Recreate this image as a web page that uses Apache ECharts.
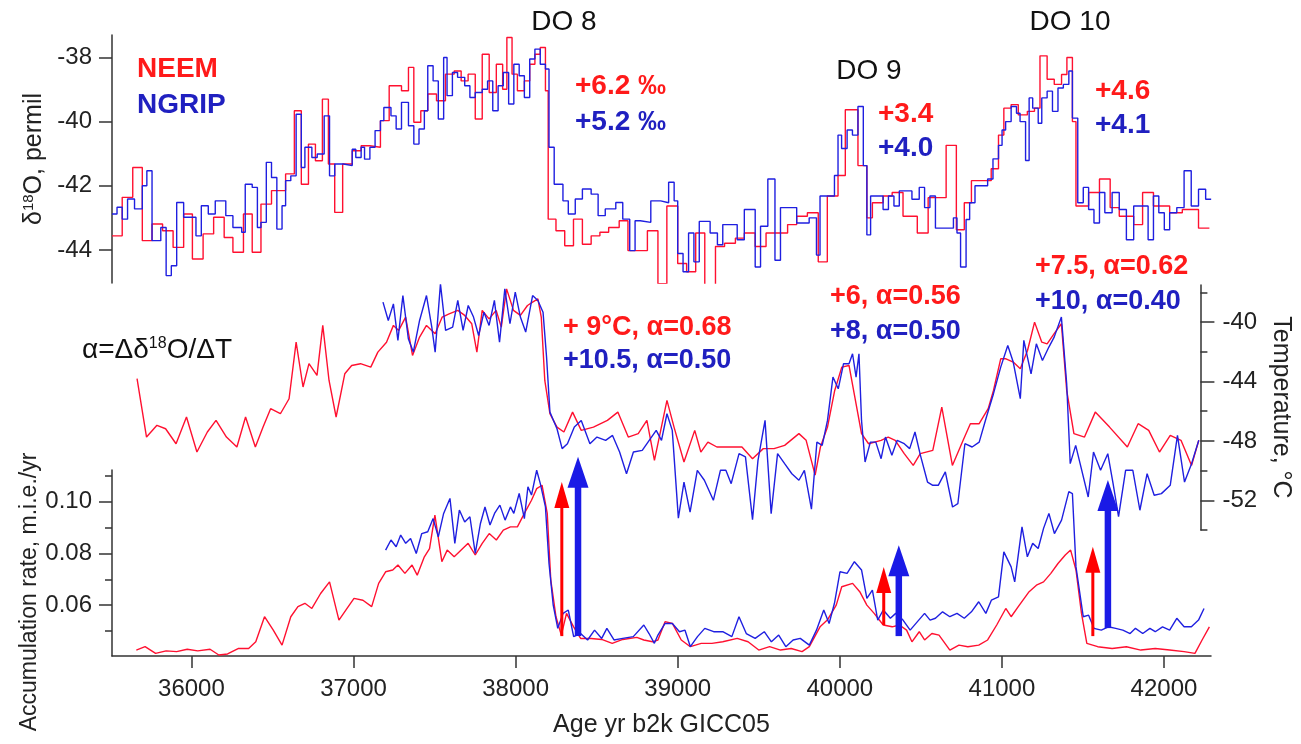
<!DOCTYPE html>
<html>
<head>
<meta charset="utf-8">
<script src="https://cdn.jsdelivr.net/npm/echarts@6.0.0/dist/echarts.min.js"></script>
<style>
html,body{margin:0;padding:0;background:#fff;}
#chart{width:1301px;height:744px;}
</style>
</head>
<body>
<div id="chart"></div>
<script>
// ---------- DATA ----------
const xTicks = [36000, 37000, 38000, 39000, 40000, 41000, 42000];
const d18OTicks = [-44, -42, -40, -38];
const tempTicks = [-52, -48, -44, -40];
const tempMinorTicks = [-54, -50, -46, -42, -38];
const accTicks = [0.06, 0.08, 0.10];
const accMinorTicks = [0.05, 0.07, 0.09, 0.11];

// NEEM d18O (step series: value holds from year to next year)
const neemD18OYears = [35510,35573,35638,35697,35757,35822,35887,35952,36006,36072,36137,36202,36256,36321,36375,36429,36494,36581,36635,36678,36722,36765,36808,36845,36884,36933,36992,37047,37101,37166,37220,37296,37339,37372,37415,37458,37512,37567,37621,37664,37707,37751,37794,37837,37881,37920,37946,37978,38011,38054,38087,38119,38152,38184,38201,38249,38303,38357,38412,38466,38520,38574,38639,38693,38813,38878,38933,39000,39055,39111,39167,39233,39289,39356,39411,39478,39545,39678,39734,39800,39867,39923,39989,40034,40112,40167,40201,40267,40323,40390,40478,40545,40656,40719,40768,40812,40934,40979,41012,41057,41101,41157,41201,41235,41279,41323,41368,41401,41435,41457,41535,41602,41668,41724,41813,41868,41935,42035,42113,42213,42280];
const neemD18O = [-43.56,-42.36,-41.43,-43.71,-43.19,-43.40,-43.92,-42.88,-44.28,-43.50,-42.98,-43.61,-44.07,-42.88,-44.07,-42.57,-42.15,-41.63,-39.66,-41.95,-40.70,-41.22,-39.30,-41.32,-42.83,-41.32,-40.91,-40.75,-40.80,-39.97,-38.88,-39.04,-38.31,-40.02,-39.66,-39.14,-39.35,-38.52,-38.42,-38.73,-38.52,-39.92,-37.90,-39.09,-38.21,-38.99,-37.38,-38.52,-39.04,-38.73,-38.21,-37.90,-37.69,-39.04,-43.04,-43.40,-43.87,-43.04,-43.82,-43.56,-43.45,-43.30,-43.09,-44.02,-43.40,-45.05,-42.63,-44.42,-44.68,-43.47,-45.16,-43.89,-43.79,-43.63,-43.47,-43.89,-43.47,-43.21,-42.95,-42.84,-44.37,-42.32,-41.68,-39.63,-41.37,-43.00,-42.53,-42.32,-42.21,-42.95,-43.47,-42.37,-40.74,-43.37,-42.53,-41.84,-41.47,-40.42,-39.58,-39.47,-39.79,-39.68,-39.58,-37.95,-38.68,-38.84,-38.53,-38.00,-40.00,-42.63,-42.21,-41.79,-42.68,-42.95,-43.21,-42.21,-42.63,-42.84,-42.74,-43.32,-43.32];

// NGRIP d18O (step series)
const ngripD18OYears = [35510,35541,35573,35606,35649,35697,35725,35757,35811,35844,35876,35909,35952,36028,36061,36104,36147,36212,36256,36310,36332,36375,36407,36429,36462,36494,36527,36559,36581,36613,36646,36678,36700,36743,36776,36819,36852,36884,36938,36992,37014,37047,37068,37101,37133,37166,37187,37231,37263,37296,37339,37372,37404,37437,37458,37491,37523,37556,37577,37610,37642,37686,37718,37751,37794,37827,37859,37892,37924,37957,37989,38022,38054,38087,38119,38152,38184,38206,38238,38292,38325,38368,38412,38466,38509,38553,38618,38661,38704,38737,38769,38834,38895,38944,38978,39000,39033,39067,39100,39133,39200,39245,39278,39367,39411,39478,39511,39556,39600,39634,39734,39811,39856,39878,39967,39989,40011,40045,40078,40112,40145,40167,40190,40267,40300,40334,40367,40445,40490,40523,40556,40590,40701,40723,40745,40779,40801,40834,40912,40945,40979,41001,41023,41057,41090,41112,41146,41168,41190,41224,41246,41279,41312,41346,41379,41413,41435,41468,41502,41535,41568,41602,41635,41680,41724,41768,41813,41902,41935,41968,42002,42035,42079,42124,42168,42213,42257,42291];
const ngripD18O = [-42.88,-42.67,-43.04,-42.41,-42.72,-42.00,-41.53,-43.71,-43.30,-44.80,-44.49,-42.52,-42.98,-43.56,-42.62,-42.88,-42.47,-42.93,-43.30,-43.45,-41.95,-42.05,-43.30,-43.14,-41.27,-41.74,-43.35,-42.62,-41.84,-41.69,-39.77,-41.43,-40.80,-41.12,-41.01,-39.82,-41.69,-41.32,-41.37,-40.86,-41.12,-40.80,-41.17,-40.80,-40.28,-39.97,-39.56,-39.82,-40.23,-39.40,-40.13,-40.70,-40.23,-39.66,-38.26,-38.73,-39.92,-38.00,-39.19,-38.47,-38.62,-38.88,-39.25,-39.09,-38.99,-38.73,-39.66,-38.88,-38.47,-39.45,-38.21,-38.57,-39.25,-38.05,-37.74,-38.21,-38.36,-40.80,-41.95,-42.47,-42.88,-42.41,-42.10,-42.26,-42.93,-42.72,-42.52,-43.04,-44.02,-43.09,-43.14,-42.47,-42.53,-41.89,-42.47,-44.11,-44.68,-43.47,-44.37,-43.11,-43.47,-43.84,-43.21,-43.68,-42.74,-44.53,-43.26,-41.79,-44.32,-42.68,-43.16,-43.00,-44.16,-42.32,-41.68,-40.42,-40.84,-40.26,-40.42,-39.53,-41.37,-43.53,-42.32,-42.74,-42.32,-42.63,-42.16,-42.42,-42.05,-42.68,-42.32,-43.32,-43.00,-43.47,-44.53,-43.05,-42.53,-42.00,-41.79,-41.16,-40.74,-40.26,-40.00,-39.53,-39.74,-40.00,-41.21,-39.26,-39.58,-40.05,-39.26,-39.05,-39.68,-38.95,-38.84,-38.42,-39.89,-42.53,-42.05,-42.74,-43.16,-42.21,-42.84,-42.21,-42.74,-43.68,-42.63,-43.68,-42.32,-42.84,-43.37,-42.84,-42.68,-41.53,-42.63,-42.11,-42.42,-42.42];

// NEEM temperature (deg C)
const neemTempYears = [35666,35725,35790,35844,35909,35974,36039,36104,36158,36223,36288,36342,36403,36451,36498,36559,36613,36657,36700,36737,36787,36823,36862,36906,36960,37003,37058,37122,37166,37220,37263,37296,37339,37382,37426,37469,37523,37567,37610,37664,37707,37751,37783,37816,37859,37903,37935,37968,38011,38054,38098,38130,38163,38184,38206,38238,38282,38325,38379,38433,38509,38596,38661,38726,38788,38842,38889,38967,39011,39073,39140,39178,39222,39278,39367,39434,39500,39567,39634,39700,39789,39834,39890,39923,39967,40012,40056,40101,40145,40179,40223,40301,40345,40389,40445,40501,40545,40623,40679,40745,40812,40857,40912,40968,41001,41046,41079,41124,41168,41213,41257,41302,41335,41379,41424,41457,41502,41568,41635,41724,41835,41902,41968,42035,42102,42169,42235,42280];
const neemTemp = [-43.81,-47.74,-46.95,-47.18,-48.19,-46.39,-48.75,-47.40,-46.62,-47.74,-48.41,-46.39,-48.41,-47.07,-45.83,-46.17,-45.16,-41.35,-44.37,-42.80,-43.59,-40.22,-43.93,-46.39,-43.48,-42.92,-42.80,-43.03,-42.02,-41.35,-40.22,-40.56,-39.66,-42.24,-41.01,-40.22,-40.78,-39.66,-39.44,-39.21,-39.55,-40.11,-42.02,-39.21,-39.78,-39.21,-40.34,-37.76,-39.21,-39.55,-38.88,-38.65,-38.43,-39.66,-43.93,-46.17,-47.07,-47.40,-46.06,-47.29,-47.07,-46.62,-46.06,-47.74,-47.51,-46.62,-49.31,-45.27,-47.07,-49.42,-47.29,-48.75,-48.08,-48.41,-48.41,-48.41,-49.20,-48.52,-48.52,-48.30,-47.51,-47.96,-50.30,-48.41,-47.07,-44.60,-43.03,-42.92,-45.50,-47.51,-48.19,-47.96,-47.74,-47.96,-48.86,-49.65,-48.86,-48.64,-45.72,-49.65,-47.96,-46.84,-46.84,-45.83,-44.60,-42.47,-42.47,-42.69,-43.14,-41.91,-40.00,-41.35,-41.46,-40.78,-40.11,-44.60,-47.51,-47.74,-46.06,-47.07,-48.41,-46.84,-47.29,-48.75,-47.63,-47.96,-49.65,-47.96];

// NGRIP temperature (deg C)
const ngripTempYears = [37198,37231,37263,37291,37322,37356,37387,37426,37469,37502,37523,37556,37588,37632,37664,37697,37729,37762,37794,37827,37859,37892,37924,37957,37989,38022,38054,38087,38130,38163,38195,38217,38238,38282,38314,38347,38390,38433,38487,38531,38585,38628,38672,38715,38758,38813,38900,38933,38967,39000,39038,39073,39111,39156,39200,39256,39300,39334,39367,39416,39456,39500,39534,39578,39616,39656,39700,39745,39789,39823,39867,39901,39934,39967,40001,40034,40067,40101,40123,40145,40163,40179,40201,40234,40268,40301,40328,40368,40401,40445,40479,40512,40546,40590,40623,40657,40701,40746,40779,40823,40868,40912,40957,41001,41046,41090,41124,41168,41190,41235,41268,41306,41346,41379,41424,41457,41479,41513,41546,41591,41624,41668,41713,41746,41780,41824,41869,41913,41958,42002,42047,42102,42147,42191,42235,42280];
const ngripTemp = [-38.65,-39.89,-38.77,-41.23,-38.21,-41.12,-42.02,-39.89,-38.21,-40.34,-42.02,-37.42,-40.56,-40.34,-38.54,-40.56,-38.88,-39.66,-40.90,-39.33,-40.22,-38.54,-41.35,-37.76,-40.11,-37.98,-39.66,-40.67,-38.21,-38.54,-39.33,-42.36,-46.06,-47.18,-48.52,-48.19,-47.07,-46.62,-48.19,-47.74,-47.96,-47.63,-48.75,-50.21,-48.75,-48.64,-47.29,-47.96,-46.17,-47.29,-53.20,-50.77,-52.80,-49.98,-50.65,-52.00,-49.98,-49.98,-50.88,-48.86,-49.08,-53.30,-49.31,-46.62,-52.90,-48.86,-49.53,-50.21,-50.65,-49.98,-52.60,-48.08,-48.30,-46.62,-43.70,-44.49,-42.80,-42.80,-42.13,-43.70,-42.13,-46.62,-49.42,-48.08,-48.08,-49.20,-47.74,-48.97,-47.96,-48.19,-48.52,-47.40,-48.97,-50.77,-50.99,-50.99,-50.09,-52.45,-52.23,-48.19,-48.41,-48.08,-46.39,-44.82,-43.03,-41.57,-42.69,-45.16,-41.23,-43.48,-41.46,-42.58,-41.68,-41.01,-39.66,-44.15,-49.53,-48.30,-49.76,-51.78,-48.75,-49.98,-48.86,-50.88,-53.10,-49.98,-49.98,-52.67,-50.21,-51.66,-51.55,-50.99,-47.63,-50.77,-49.53,-47.96];

// NEEM accumulation rate (m ice eq. / yr)
const neemAccYears = [35660,35714,35779,35844,35909,35974,36039,36115,36169,36223,36288,36353,36397,36451,36505,36559,36613,36657,36700,36743,36797,36852,36910,36960,37003,37058,37112,37155,37198,37242,37274,37317,37361,37393,37437,37469,37502,37545,37578,37621,37664,37707,37751,37794,37837,37881,37924,37968,38011,38054,38098,38130,38163,38195,38217,38249,38282,38314,38358,38401,38466,38531,38596,38661,38748,38791,38845,38878,38922,38967,39022,39078,39145,39211,39278,39367,39434,39500,39567,39634,39700,39767,39812,39878,39923,39978,40012,40079,40123,40167,40212,40268,40323,40368,40412,40445,40490,40523,40568,40612,40679,40735,40790,40857,40912,40968,41024,41057,41101,41168,41213,41257,41302,41346,41391,41424,41457,41491,41524,41591,41680,41768,41857,41946,42035,42124,42191,42235,42280];
const neemAcc = [0.0426,0.0439,0.0413,0.0423,0.0420,0.0429,0.0423,0.0429,0.0407,0.0411,0.0432,0.0432,0.0458,0.0555,0.0503,0.0445,0.0555,0.0594,0.0607,0.0587,0.0645,0.0690,0.0542,0.0587,0.0626,0.0619,0.0594,0.0684,0.0729,0.0736,0.0755,0.0723,0.0755,0.0716,0.0787,0.0819,0.0948,0.0768,0.0813,0.0787,0.0813,0.0839,0.0794,0.0839,0.0877,0.0852,0.0890,0.0903,0.0903,0.0955,0.1006,0.1051,0.1064,0.0955,0.0697,0.0555,0.0484,0.0568,0.0516,0.0471,0.0471,0.0467,0.0452,0.0467,0.0475,0.0465,0.0458,0.0465,0.0536,0.0529,0.0465,0.0439,0.0452,0.0452,0.0458,0.0471,0.0458,0.0426,0.0439,0.0426,0.0432,0.0420,0.0439,0.0516,0.0542,0.0600,0.0671,0.0684,0.0652,0.0600,0.0568,0.0523,0.0516,0.0523,0.0503,0.0458,0.0497,0.0465,0.0490,0.0484,0.0426,0.0445,0.0439,0.0445,0.0465,0.0523,0.0587,0.0555,0.0594,0.0652,0.0677,0.0690,0.0723,0.0761,0.0794,0.0813,0.0736,0.0568,0.0452,0.0439,0.0432,0.0439,0.0426,0.0432,0.0426,0.0420,0.0413,0.0465,0.0516];

// NGRIP accumulation rate (m ice eq. / yr)
const ngripAccYears = [37198,37231,37263,37291,37322,37352,37387,37421,37458,37491,37523,37556,37595,37625,37653,37686,37718,37751,37783,37811,37842,37870,37903,37935,37968,37989,38022,38054,38076,38098,38130,38152,38184,38206,38232,38260,38293,38325,38358,38401,38444,38487,38531,38563,38607,38661,38726,38791,38823,38856,38878,38922,38967,39011,39045,39078,39122,39167,39222,39278,39334,39378,39423,39478,39534,39578,39623,39667,39712,39756,39812,39856,39901,39934,39967,40001,40045,40090,40134,40167,40201,40234,40268,40312,40345,40390,40434,40479,40523,40557,40590,40634,40679,40723,40768,40812,40857,40901,40935,40979,41012,41057,41079,41124,41157,41190,41224,41257,41290,41324,41368,41413,41435,41457,41502,41535,41568,41613,41657,41702,41746,41791,41824,41869,41913,41946,41991,42035,42079,42124,42169,42213,42247];
const ngripAcc = [0.0813,0.0852,0.0826,0.0871,0.0839,0.0858,0.0800,0.0877,0.0884,0.0935,0.0864,0.0955,0.1013,0.0839,0.0968,0.0922,0.0942,0.0800,0.0916,0.0980,0.0910,0.0955,0.0987,0.0929,0.0980,0.0955,0.1032,0.0935,0.1058,0.1026,0.1122,0.1071,0.0980,0.0761,0.0600,0.0510,0.0568,0.0581,0.0478,0.0490,0.0465,0.0503,0.0471,0.0510,0.0465,0.0471,0.0478,0.0523,0.0490,0.0452,0.0484,0.0529,0.0529,0.0497,0.0503,0.0439,0.0478,0.0510,0.0497,0.0497,0.0478,0.0555,0.0490,0.0471,0.0497,0.0458,0.0484,0.0439,0.0465,0.0471,0.0445,0.0503,0.0581,0.0529,0.0607,0.0729,0.0723,0.0768,0.0736,0.0626,0.0658,0.0542,0.0581,0.0549,0.0568,0.0542,0.0503,0.0536,0.0568,0.0542,0.0549,0.0574,0.0555,0.0568,0.0549,0.0574,0.0613,0.0568,0.0619,0.0632,0.0806,0.0748,0.0690,0.0903,0.0787,0.0839,0.0819,0.0897,0.0955,0.0877,0.0929,0.1039,0.1032,0.0748,0.0555,0.0561,0.0510,0.0503,0.0516,0.0510,0.0503,0.0490,0.0510,0.0490,0.0510,0.0497,0.0516,0.0503,0.0549,0.0516,0.0516,0.0542,0.0587];

// Arrows marking accumulation jumps (year, base value, tip value)
const neemArrowYears = [38285, 40271, 41561];
const neemArrowBase = [0.0480, 0.0523, 0.0480];
const neemArrowTip = [0.1077, 0.0748, 0.0826];
const ngripArrowYears = [38385, 40364, 41654];
const ngripArrowBase = [0.0480, 0.0480, 0.0511];
const ngripArrowTip = [0.1174, 0.0832, 0.1084];

// ---------- STYLE ----------
const RED = '#ff1030';
const BLUE = '#1f1fe0';
const RED_TXT = '#ff1a1a';
const BLUE_TXT = '#2020c0';
const AX = '#333';
const FONT = '"Liberation Sans", Arial, sans-serif';
const X_MIN = 35510, X_MAX = 42290;

const zip = (xs, ys) => xs.map((x, i) => [x, ys[i]]);

function arrowRenderer(shaftW, headW, headL, color) {
  return function (params, api) {
    const base = api.coord([api.value(0), api.value(1)]);
    const tip = api.coord([api.value(0), api.value(2)]);
    return {
      type: 'group',
      children: [
        { type: 'line', shape: { x1: base[0], y1: base[1], x2: tip[0], y2: tip[1] + headL - 2 },
          style: { stroke: color, lineWidth: shaftW } },
        { type: 'polygon', shape: { points: [[tip[0], tip[1]], [tip[0] - headW / 2, tip[1] + headL], [tip[0] + headW / 2, tip[1] + headL]] },
          style: { fill: color } }
      ]
    };
  };
}

const hiddenX = (gi) => ({
  type: 'value', gridIndex: gi, min: X_MIN, max: X_MAX, show: false
});

const lineSeries = (name, data, xi, yi, color, step) => ({
  name, type: 'line', data, xAxisIndex: xi, yAxisIndex: yi, step: step || false,
  showSymbol: false, symbol: 'none', animation: false,
  lineStyle: { color, width: 1.4 }, itemStyle: { color }
});

const tickLabel = { color: '#222', fontSize: 24, fontFamily: FONT };
const titleStyle = { color: '#222', fontSize: 25, fontFamily: FONT };

function txt(text, x, y, color, size, weight, align) {
  return { type: 'text', x, y, style: { text, fill: color, font: (weight || 'normal') + ' ' + size + 'px ' + FONT,
    textAlign: align || 'left', textVerticalAlign: 'middle' } };
}

const option = {
  backgroundColor: '#fff',
  animation: false,
  grid: [
    { left: 112, top: 35, width: 1099, height: 248 },
    { left: 112, top: 285, width: 1099, height: 245 },
    { left: 112, top: 470, width: 1099, height: 186 }
  ],
  xAxis: [
    hiddenX(0),
    hiddenX(1),
    {
      type: 'value', gridIndex: 2, min: X_MIN, max: X_MAX,
      axisLine: { show: true, lineStyle: { color: AX, width: 1.5 } },
      axisTick: { show: true, length: 12, inside: false, customValues: xTicks, lineStyle: { color: AX, width: 1.5 } },
      axisLabel: Object.assign({ margin: 21, customValues: xTicks, formatter: v => String(v) }, tickLabel),
      splitLine: { show: false },
      name: 'Age yr b2k GICC05', nameLocation: 'middle', nameGap: 57,
      nameTextStyle: titleStyle
    }
  ],
  yAxis: [
    {
      type: 'value', gridIndex: 0, min: -45.03, max: -37.3, position: 'left',
      axisLine: { show: true, lineStyle: { color: AX, width: 1.5 } },
      axisTick: { show: true, length: 13, customValues: d18OTicks, lineStyle: { color: AX, width: 1.5 } },
      axisLabel: Object.assign({ margin: 20, customValues: d18OTicks }, tickLabel),
      splitLine: { show: false },
      name: 'δ{sup|18}O, permil', nameLocation: 'middle', nameGap: 50,
      nameTextStyle: Object.assign({}, titleStyle,
        { rich: { sup: { fontSize: 15, fontFamily: FONT, color: '#222', verticalAlign: 'top', lineHeight: 15 } } })
    },
    {
      type: 'value', gridIndex: 1, min: -54, max: -37.5, position: 'right',
      axisLine: { show: true, lineStyle: { color: AX, width: 1.5 } },
      axisTick: { show: true, length: 14, customValues: tempTicks, lineStyle: { color: AX, width: 1.5 } },
      axisLabel: Object.assign({ margin: 22, customValues: tempTicks }, tickLabel),
      splitLine: { show: false },
      name: 'Temperature, °C', nameLocation: 'middle', nameGap: 64, nameRotate: -90,
      nameTextStyle: titleStyle
    },
    {
      type: 'value', gridIndex: 1, min: -54, max: -37.5, position: 'right',
      axisLine: { show: false },
      axisTick: { show: true, length: 7, customValues: tempMinorTicks, lineStyle: { color: AX, width: 1.5 } },
      axisLabel: { show: false }, splitLine: { show: false }
    },
    {
      type: 'value', gridIndex: 2, min: 0.0403, max: 0.1123, position: 'left',
      axisLine: { show: true, lineStyle: { color: AX, width: 1.5 } },
      axisTick: { show: true, length: 13, customValues: accTicks, lineStyle: { color: AX, width: 1.5 } },
      axisLabel: Object.assign({ margin: 20, customValues: accTicks, formatter: v => v.toFixed(2) }, tickLabel),
      splitLine: { show: false }
    },
    {
      type: 'value', gridIndex: 2, min: 0.0403, max: 0.1123, position: 'left',
      axisLine: { show: false },
      axisTick: { show: true, length: 7, customValues: accMinorTicks, lineStyle: { color: AX, width: 1.5 } },
      axisLabel: { show: false }, splitLine: { show: false }
    }
  ],
  series: [
    lineSeries('NEEM d18O', zip(neemD18OYears, neemD18O), 0, 0, RED, 'end'),
    lineSeries('NGRIP d18O', zip(ngripD18OYears, ngripD18O), 0, 0, BLUE, 'end'),
    lineSeries('NEEM T', zip(neemTempYears, neemTemp), 1, 1, RED),
    lineSeries('NGRIP T', zip(ngripTempYears, ngripTemp), 1, 1, BLUE),
    lineSeries('NEEM acc', zip(neemAccYears, neemAcc), 2, 3, RED),
    lineSeries('NGRIP acc', zip(ngripAccYears, ngripAcc), 2, 3, BLUE),
    {
      type: 'custom', name: 'NEEM arrows', xAxisIndex: 2, yAxisIndex: 3, clip: false, z: 5,
      data: neemArrowYears.map((x, i) => [x, neemArrowBase[i], neemArrowTip[i]]),
      encode: { x: 0, y: [1, 2] },
      renderItem: arrowRenderer(3, 15, 26, '#ff0000')
    },
    {
      type: 'custom', name: 'NGRIP arrows', xAxisIndex: 2, yAxisIndex: 3, clip: false, z: 5,
      data: ngripArrowYears.map((x, i) => [x, ngripArrowBase[i], ngripArrowTip[i]]),
      encode: { x: 0, y: [1, 2] },
      renderItem: arrowRenderer(6.5, 21, 31, '#1a1ae6')
    }
  ],
  graphic: [
    txt('NEEM', 137, 69, RED_TXT, 28, 'bold'),
    txt('NGRIP', 137, 105, BLUE_TXT, 28, 'bold'),
    txt('DO 8', 564, 22, '#111', 28, 'normal', 'center'),
    txt('DO 9', 869, 71, '#111', 28, 'normal', 'center'),
    txt('DO 10', 1070, 22, '#111', 28, 'normal', 'center'),
    txt('+6.2 ‰', 575, 86, RED_TXT, 28, 'bold'),
    txt('+5.2 ‰', 575, 122, BLUE_TXT, 28, 'bold'),
    txt('+3.4', 878, 114, RED_TXT, 28, 'bold'),
    txt('+4.0', 878, 148, BLUE_TXT, 28, 'bold'),
    txt('+4.6', 1095, 91, RED_TXT, 28, 'bold'),
    txt('+4.1', 1095, 125, BLUE_TXT, 28, 'bold'),
    {
      type: 'text', x: 82, y: 350,
      style: { text: 'α=Δδ{sup|18}O/ΔT', fill: '#111', font: 'normal 28px ' + FONT, textAlign: 'left', textVerticalAlign: 'middle',
        rich: { sup: { fontSize: 16, fontFamily: FONT, fill: '#111', verticalAlign: 'top', lineHeight: 16 } } }
    },
    txt('+ 9°C, α=0.68', 563, 328, RED_TXT, 27, 'bold'),
    txt('+10.5, α=0.50', 563, 361, BLUE_TXT, 27, 'bold'),
    txt('+6, α=0.56', 830, 297, RED_TXT, 27, 'bold'),
    txt('+8, α=0.50', 830, 332, BLUE_TXT, 27, 'bold'),
    txt('+7.5, α=0.62', 1035, 267, RED_TXT, 27, 'bold'),
    txt('+10, α=0.40', 1035, 302, BLUE_TXT, 27, 'bold'),
    {
      type: 'text', x: 30, y: 592, rotation: Math.PI / 2,
      style: { text: 'Accumulation rate, m.i.e./yr', fill: '#222', font: 'normal 23px ' + FONT,
        textAlign: 'center', textVerticalAlign: 'middle' }
    }
  ]
};

const chart = echarts.init(document.getElementById('chart'), null, { renderer: 'canvas' });
chart.setOption(option);
</script>
</body>
</html>
